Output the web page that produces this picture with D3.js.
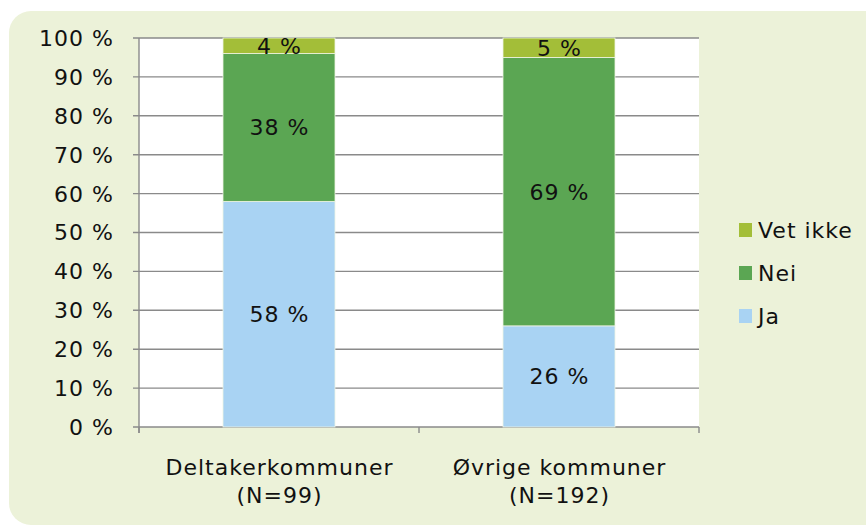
<!DOCTYPE html>
<html><head><meta charset="utf-8">
<script src="https://cdn.jsdelivr.net/npm/d3@7"></script>
<style>body{margin:0;background:#fff;}svg{display:block;font-family:"DejaVu Sans",Verdana,sans-serif;}</style>
</head><body>
<svg id="c" width="866" height="527"></svg>
<script>
const categories = ["Deltakerkommuner|(N=99)", "Øvrige kommuner|(N=192)"];
const seriesNames = ["Ja", "Nei", "Vet ikke"];
const ja = [58, 26];
const nei = [38, 69];
const vetIkke = [4, 5];
const yTicks = [0,10,20,30,40,50,60,70,80,90,100];
const colors = {"Ja":"#a9d3f3","Nei":"#5ba653","Vet ikke":"#a3be38"};

const FS = 22, LS = 1;
const svg = d3.select("#c");
svg.append("rect").attr("x",9).attr("y",11).attr("width",900).attr("height",514)
  .attr("rx",22).attr("fill","#ecf2d9");

const L=139,R=699,T=38,B=427;
svg.append("rect").attr("x",L).attr("y",T).attr("width",R-L).attr("height",B-T).attr("fill","#fff");

const x = d3.scaleBand().domain(categories).range([L,R]).paddingInner(0).paddingOuter(0);
const y = d3.scaleLinear().domain([0,100]).range([B,T]);

const grid = "#8a8a8a";
svg.append("g").selectAll("line").data(yTicks).join("line")
  .attr("x1",L-6).attr("x2",R).attr("y1",d=>y(d)).attr("y2",d=>y(d))
  .attr("stroke",grid).attr("stroke-width",1.4);
svg.append("line").attr("x1",L).attr("x2",L).attr("y1",T).attr("y2",B+6).attr("stroke",grid).attr("stroke-width",1.4);
const xb = [L, ...categories.map(c=>x(c)+x.bandwidth())];
svg.append("g").selectAll("line").data(xb).join("line")
  .attr("x1",d=>d).attr("x2",d=>d).attr("y1",B).attr("y2",B+6)
  .attr("stroke",grid).attr("stroke-width",1.4);

svg.append("g").selectAll("text").data(yTicks).join("text")
  .attr("x",114).attr("y",d=>y(d)).attr("dy","0.36em").attr("text-anchor","end")
  .attr("font-size",FS).attr("letter-spacing",LS).attr("fill","#111").text(d=>d+" %");

const rows = categories.map((c,i)=>({cat:c,"Ja":ja[i],"Nei":nei[i],"Vet ikke":vetIkke[i]}));
const stack = d3.stack().keys(seriesNames)(rows);
const bw = x.bandwidth()*0.4;
stack.forEach(s=>{
  const g = svg.append("g");
  g.selectAll("rect").data(s).join("rect")
    .attr("x",d=>x(d.data.cat)+(x.bandwidth()-bw)/2).attr("width",bw)
    .attr("y",d=>y(d[1])).attr("height",d=>y(d[0])-y(d[1]))
    .attr("fill",colors[s.key]).attr("stroke","#eef4e4").attr("stroke-width",0.8);
  g.selectAll("text").data(s).join("text")
    .attr("x",d=>x(d.data.cat)+x.bandwidth()/2+LS/2).attr("y",d=>(y(d[0])+y(d[1]))/2)
    .attr("dy","0.36em").attr("text-anchor","middle").attr("font-size",FS).attr("letter-spacing",LS).attr("fill","#111")
    .text(d=>(d[1]-d[0])+" %");
});

categories.forEach(c=>{
  const parts=c.split("|");
  const t = svg.append("text").attr("text-anchor","middle").attr("font-size",FS).attr("letter-spacing",LS).attr("fill","#111");
  t.append("tspan").attr("x",x(c)+x.bandwidth()/2+LS/2).attr("y",475).text(parts[0]);
  t.append("tspan").attr("x",x(c)+x.bandwidth()/2+LS/2).attr("y",503).text(parts[1]);
});

const legendItems = ["Vet ikke","Nei","Ja"];
const lg = svg.append("g");
legendItems.forEach((k,i)=>{
  const cy = 230 + i*43;
  lg.append("rect").attr("x",739).attr("y",cy-7).attr("width",13).attr("height",14).attr("fill",colors[k]);
  lg.append("text").attr("x",758).attr("y",cy).attr("dy","0.36em").attr("font-size",FS).attr("letter-spacing",LS).attr("fill","#111").text(k);
});
</script>
</body></html>
